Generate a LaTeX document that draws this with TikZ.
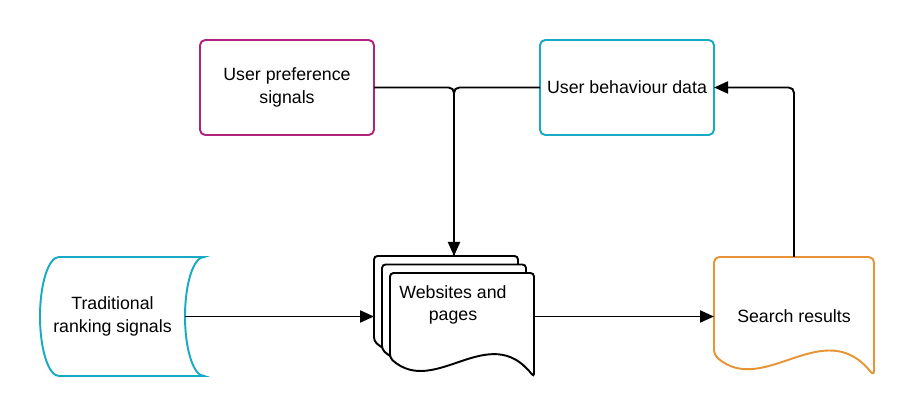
\documentclass[tikz,border=0pt]{standalone}
\usepackage{fontspec}
\setmainfont{Liberation Sans}
\usetikzlibrary{arrows.meta}

\definecolor{prefpink}{RGB}{176,36,128}
\definecolor{behavcyan}{RGB}{24,170,196}
\definecolor{resorange}{RGB}{232,148,52}

\tikzset{
	txt/.style={align=center, outer sep=0pt, font=\fontsize{10.1}{12.9}\selectfont},
	box/.style={txt, draw, line width=1.1pt, rounded corners=3pt, minimum width=3.48cm, minimum height=1.9cm},
	link/.style={line width=1.1pt, rounded corners=3pt},
	arrow/.style={link, -{Triangle[length=0.28cm,width=0.24cm]}},
	sheet/.style={draw, line width=1.1pt, fill=white, rounded corners=2pt},
}

\begin{document}
\begin{tikzpicture}
	\useasboundingbox (0,0) rectangle (18.28,8.32);
	% top boxes
	\node [box, draw=prefpink] (pref) at (5.74,6.57) {User preference\\signals};
	\node [box, draw=behavcyan] (behav) at (12.54,6.57) {User behaviour data};

	% traditional signals (cylinder)
	\node [txt, minimum width=2.9cm, minimum height=2.38cm] (cyl) at (2.25,1.99) {Traditional\\ranking signals};
	\draw [behavcyan, line width=1.1pt] ([xshift=0.38cm]cyl.north west) -- ([xshift=0.38cm]cyl.north east)
		arc [start angle=90, end angle=270, x radius=0.38cm, y radius=1.19cm]
		-- ([xshift=0.38cm]cyl.south west)
		arc [start angle=270, end angle=90, x radius=0.38cm, y radius=1.19cm] -- cycle;

	% stack of pages
	\node [txt, minimum width=3.2cm, minimum height=2.42cm] (docs) at (9.08,1.99) {};
	\draw [sheet] (10.36,1.12) .. controls +(-0.9,1.15) and +(0.9,-0.8) .. (7.48,1.50) -- (7.48,3.2) -- (10.36,3.2) -- cycle;
	\draw [sheet] (10.52,0.95) .. controls +(-0.9,1.15) and +(0.9,-0.8) .. (7.64,1.33) -- (7.64,3.03) -- (10.52,3.03) -- cycle;
	\draw [sheet] (10.68,0.78) .. controls +(-0.9,1.15) and +(0.9,-0.8) .. (7.80,1.16) -- (7.80,2.86) -- (10.68,2.86) -- cycle;
	\node [txt] (docslabel) at (9.06,2.22) {Websites and\\pages};

	% search results
	\node [txt, minimum width=3.2cm, minimum height=2.38cm] (search) at (15.88,1.99) {Search results};
	\draw [resorange, line width=1.1pt, rounded corners=3pt] (search.south east)
		.. controls +(-1.0,1.25) and +(1.0,-0.85) .. ([yshift=0.42cm]search.south west)
		-- (search.north west) -- (search.north east) -- cycle;

	% arrows
	\draw [link] (pref.east) -| (docs.north);
	\draw [arrow] (behav.west) -| (docs.north);
	\draw [arrow] (cyl.east) -- (docs.west);
	\draw [arrow] (docs.east) -- (search.west);
	\draw [arrow] (search.north) |- (behav.east);
\end{tikzpicture}
\end{document}
